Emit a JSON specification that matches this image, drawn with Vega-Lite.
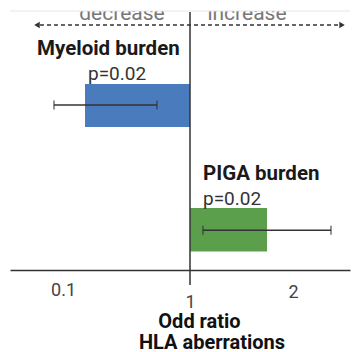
{
  "$schema": "https://vega.github.io/schema/vega-lite/v6.json",
  "width": 340,
  "height": 259,
  "autosize": {"type": "none"},
  "padding": {"left": 10, "top": 11, "right": 4, "bottom": 82},
  "background": "white",
  "config": {"view": {"stroke": null}, "font": "Roboto"},
  "datasets": {
    "bars": [
      {"group": "Myeloid burden", "or": 0.256, "lo": 0.036, "hi": 0.766, "top": 2.82, "bottom": 4.48, "mid": 3.63},
      {"group": "PIGA burden", "or": 1.748, "lo": 1.126, "hi": 2.369, "top": 7.61, "bottom": 9.29, "mid": 8.47}
    ]
  },
  "layer": [
    {
      "data": {"name": "bars"},
      "mark": {"type": "bar"},
      "encoding": {
        "x": {"field": "or", "type": "quantitative", "scale": {"type": "linear", "domain": [-0.2756, 0.1, 1, 2, 2.5534], "range": [0, 53, 180, 283, 340], "nice": false, "zero": false},
          "axis": {"values": [0.1, 1, 2], "format": "~g", "title": "Odd ratio", "grid": false, "ticks": false, "domainColor": "#333333", "domainWidth": 1.5,
            "labelFont": "Roboto", "labelFontSize": 18, "labelColor": "#444444",
            "labelPadding": {"condition": [{"test": "datum.value == 1", "value": 23}, {"test": "datum.value == 2", "value": 13}], "value": 11},
            "labelFlush": false, "labelOverlap": false,
            "titleFont": "Roboto", "titleFontSize": 20, "titleFontWeight": "bold", "titleColor": "#111111",
            "titleX": 189, "titleY": 57, "titleAlign": "center", "titleBaseline": "alphabetic"}},
        "x2": {"datum": 1},
        "y": {"field": "top", "type": "quantitative", "scale": {"domain": [10, 0], "nice": false, "zero": false}, "axis": null},
        "y2": {"field": "bottom"},
        "color": {"field": "group", "type": "nominal", "scale": {"domain": ["Myeloid burden", "PIGA burden"], "range": ["#4a7bbd", "#5b9f4c"]}, "legend": null}
      }
    },
    {
      "data": {"name": "bars"},
      "mark": {"type": "rule", "color": "#333333", "strokeWidth": 1.5},
      "encoding": {
        "x": {"field": "lo", "type": "quantitative"},
        "x2": {"field": "hi"},
        "y": {"field": "mid", "type": "quantitative"}
      }
    },
    {
      "data": {"name": "bars"},
      "mark": {"type": "tick", "orient": "vertical", "color": "#333333", "size": 9, "thickness": 1.5},
      "encoding": {
        "x": {"field": "lo", "type": "quantitative"},
        "y": {"field": "mid", "type": "quantitative"}
      }
    },
    {
      "data": {"name": "bars"},
      "mark": {"type": "tick", "orient": "vertical", "color": "#333333", "size": 9, "thickness": 1.5},
      "encoding": {
        "x": {"field": "hi", "type": "quantitative"},
        "y": {"field": "mid", "type": "quantitative"}
      }
    },
    {
      "data": {"values": [{"x": 1, "y1": 0.04, "y2": 10.58}]},
      "mark": {"type": "rule", "color": "#333333", "strokeWidth": 1.5},
      "encoding": {
        "x": {"field": "x", "type": "quantitative"},
        "y": {"field": "y1", "type": "quantitative"},
        "y2": {"field": "y2"}
      }
    },
    {
      "data": {"values": [{"a": -0.063, "b": 2.4466, "y": 0.54}]},
      "mark": {"type": "rule", "color": "#333333", "strokeWidth": 1.5, "strokeDash": [4, 3]},
      "encoding": {
        "x": {"field": "a", "type": "quantitative"},
        "x2": {"field": "b"},
        "y": {"field": "y", "type": "quantitative"}
      }
    },
    {
      "data": {"values": [{"x": -0.0843, "y": 0.54, "s": "triangle-left"}, {"x": 2.476, "y": 0.54, "s": "triangle-right"}]},
      "mark": {"type": "point", "filled": true, "color": "#333333", "opacity": 1, "size": 40},
      "encoding": {
        "x": {"field": "x", "type": "quantitative"},
        "y": {"field": "y", "type": "quantitative"},
        "shape": {"field": "s", "type": "nominal", "scale": null, "legend": null}
      }
    },
    {
      "data": {"values": [{"t": "decrease", "x": 0.518, "y": 0.35}, {"t": "increase", "x": 1.553, "y": 0.35}]},
      "mark": {"type": "text", "font": "Roboto", "fontSize": 21, "color": "#777777", "align": "center", "baseline": "alphabetic", "clip": true},
      "encoding": {
        "x": {"field": "x", "type": "quantitative"},
        "y": {"field": "y", "type": "quantitative"},
        "text": {"field": "t"}
      }
    },
    {
      "data": {"values": [{"a": -0.2756, "b": 2.5534, "y1": -0.6, "y2": 0}]},
      "mark": {"type": "rect", "color": "white", "opacity": 1},
      "encoding": {
        "x": {"field": "a", "type": "quantitative"},
        "x2": {"field": "b"},
        "y": {"field": "y1", "type": "quantitative"},
        "y2": {"field": "y2"}
      }
    },
    {
      "data": {"values": [{"a": -0.2756, "b": 2.5534, "y": 0}]},
      "mark": {"type": "rule", "color": "#e6e6e6", "strokeWidth": 1},
      "encoding": {
        "x": {"field": "a", "type": "quantitative"},
        "x2": {"field": "b"},
        "y": {"field": "y", "type": "quantitative"}
      }
    },
    {
      "data": {"values": [{"t": "Myeloid burden", "x": -0.0843, "y": 1.70}, {"t": "PIGA burden", "x": 1.126, "y": 6.525}]},
      "mark": {"type": "text", "font": "Roboto", "fontSize": 20.5, "fontWeight": "bold", "color": "#1a1a1a", "align": "left", "baseline": "alphabetic"},
      "encoding": {
        "x": {"field": "x", "type": "quantitative"},
        "y": {"field": "y", "type": "quantitative"},
        "text": {"field": "t"}
      }
    },
    {
      "data": {"values": [{"t": "p=0.02", "x": 0.277, "y": 2.66}, {"t": "p=0.02", "x": 1.126, "y": 7.49}]},
      "mark": {"type": "text", "font": "Roboto", "fontSize": 19, "color": "#333333", "align": "left", "baseline": "alphabetic"},
      "encoding": {
        "x": {"field": "x", "type": "quantitative"},
        "y": {"field": "y", "type": "quantitative"},
        "text": {"field": "t"}
      }
    },
    {
      "data": {"values": [{"t": "HLA aberrations", "x": 1.2136, "y": 13.05}]},
      "mark": {"type": "text", "font": "Roboto", "fontSize": 20, "fontWeight": "bold", "color": "#111111", "align": "center", "baseline": "alphabetic"},
      "encoding": {
        "x": {"field": "x", "type": "quantitative"},
        "y": {"field": "y", "type": "quantitative"},
        "text": {"field": "t"}
      }
    }
  ]
}
